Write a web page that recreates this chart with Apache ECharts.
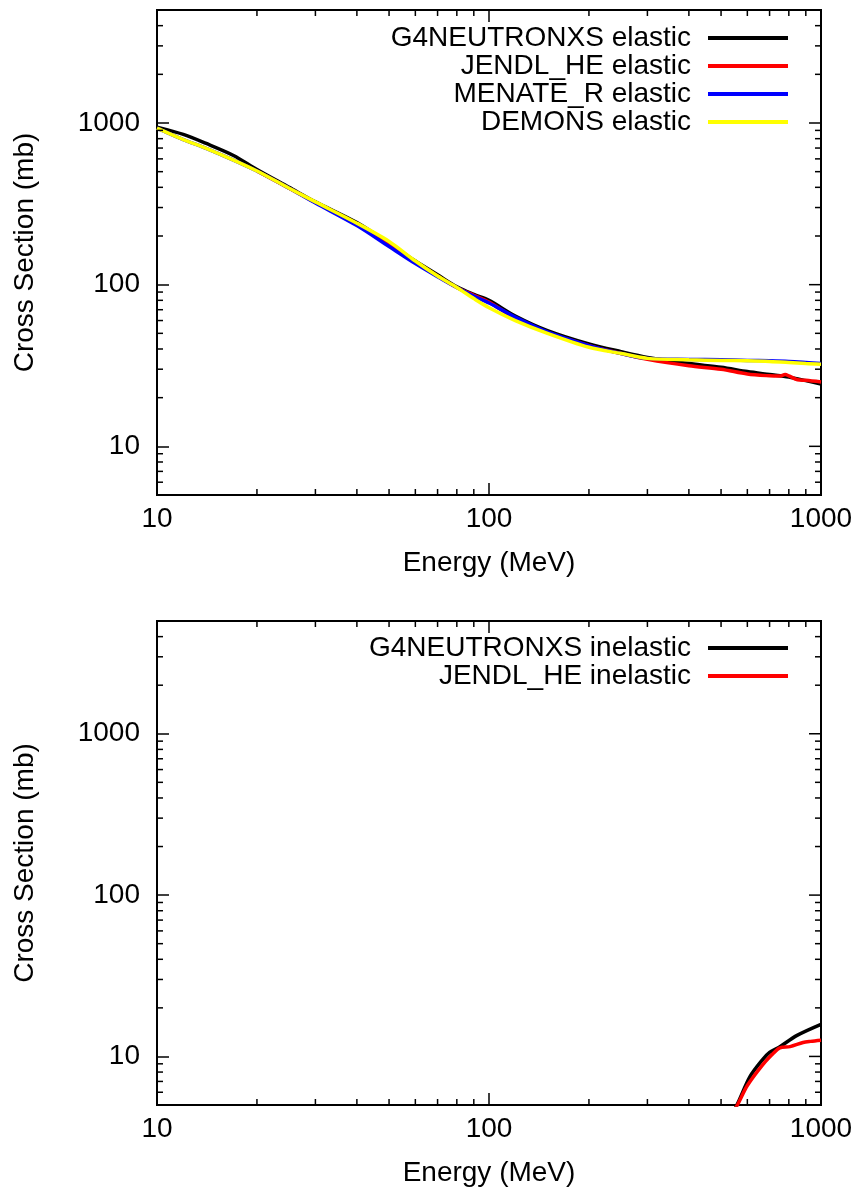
<!DOCTYPE html>
<html>
<head>
<meta charset="utf-8">
<script src="https://cdn.jsdelivr.net/npm/echarts@6/dist/echarts.min.js"></script>
<style>
html,body{margin:0;padding:0;background:#fff;}
#chart{width:858px;height:1192px;}
</style>
</head>
<body>
<div id="chart"></div>
<script>
// ---- axis ranges and ticks ----
const X_RANGE = [10, 1000];
const Y_RANGE = [5, 5000];
const X_MAJOR_MIRROR = [100];
const X_MINOR = [20, 30, 40, 50, 60, 70, 80, 90, 200, 300, 400, 500, 600, 700, 800, 900];
const Y_MAJOR_MIRROR = [10, 100, 1000];
const Y_MINOR = [6, 7, 8, 9, 20, 30, 40, 50, 60, 70, 80, 90, 200, 300, 400, 500, 600, 700, 800, 900, 2000, 3000, 4000];

// ---- elastic (top panel) ----
const g4ElasticE = [10, 12, 14, 17, 20, 25, 30, 40, 50, 60, 70, 80, 90, 100, 120, 150, 200, 250, 300, 400, 500, 600, 700, 800, 900, 1000];
const g4Elastic  = [943, 850, 750, 630, 515, 400, 325, 242, 180, 140, 115, 97, 87, 80, 64, 52, 43, 38.5, 35.5, 32.5, 30.8, 29, 27.8, 26.8, 25.5, 24.3];

const jendlElasticE = [20, 25, 30, 40, 50, 60, 70, 80, 90, 100, 120, 150, 200, 250, 300, 400, 500, 600, 700, 750, 780, 800, 850, 900, 1000];
const jendlElastic  = [505, 395, 322, 238, 178, 138, 113, 96, 86, 78, 62, 50.5, 42, 37.5, 34.5, 31.5, 30, 28, 27.3, 27.2, 27.8, 27.3, 25.8, 25.6, 25.0];

const menateElasticE = [10, 12, 14, 17, 20, 25, 30, 40, 50, 60, 70, 80, 90, 100, 120, 150, 200, 250, 300, 400, 500, 600, 700, 800, 900, 1000];
const menateElastic  = [930, 790, 700, 590, 505, 395, 320, 232, 172, 135, 112, 96, 85, 77, 63, 51, 42, 37.5, 35, 34.5, 34.3, 34, 33.8, 33.5, 33, 32.5];

const demonsElasticE = [10, 12, 14, 17, 20, 25, 30, 40, 50, 60, 70, 80, 90, 100, 120, 150, 200, 250, 300, 400, 500, 600, 700, 800, 900, 1000];
const demonsElastic  = [930, 790, 700, 590, 505, 395, 325, 240, 185, 140, 113, 96, 82, 72, 60, 50, 41, 37.5, 35, 34.3, 34, 33.8, 33.5, 33, 32.5, 32.2];

// ---- inelastic (bottom panel) ----
const g4InelasticE = [530, 558, 611, 668, 700, 752, 847, 1000];
const g4Inelastic  = [4.2, 5, 7.5, 9.6, 10.6, 11.5, 13.5, 15.8];

const jendlInelasticE = [530, 560, 600, 668, 720, 752, 807, 883, 930, 1000];
const jendlInelastic  = [4.2, 5, 6.6, 8.9, 10.5, 11.3, 11.5, 12.2, 12.4, 12.6];

const FONT = 'Liberation Sans';
const FS = 28;

function pairs(xs, ys) { return xs.map((x, i) => [x, ys[i]]); }

function xAxisCfg(gridIndex) {
  return {
    type: 'log', logBase: 10, gridIndex,
    min: X_RANGE[0], max: X_RANGE[1],
    name: 'Energy (MeV)', nameLocation: 'middle', nameGap: 54,
    nameTextStyle: { fontFamily: FONT, fontSize: FS, color: '#000' },
    axisLine: { show: true, lineStyle: { color: '#000', width: 2 } },
    axisTick: { show: true, inside: true, length: 12, lineStyle: { color: '#000', width: 1.5 } },
    axisLabel: { fontFamily: FONT, fontSize: FS, color: '#000', margin: 10,
      formatter: v => String(Math.round(v)) },
    splitLine: { show: false }, minorTick: { show: false }
  };
}
function yAxisCfg(gridIndex) {
  return {
    type: 'log', logBase: 10, gridIndex,
    min: Y_RANGE[0], max: Y_RANGE[1],
    name: 'Cross Section (mb)', nameLocation: 'middle', nameGap: 118, nameRotate: 90,
    nameTextStyle: { fontFamily: FONT, fontSize: FS, color: '#000' },
    axisLine: { show: true, lineStyle: { color: '#000', width: 2 } },
    axisTick: { show: true, inside: true, length: 12, lineStyle: { color: '#000', width: 1.5 } },
    axisLabel: { fontFamily: FONT, fontSize: FS, color: '#000', margin: 17,
      showMinLabel: false, showMaxLabel: false,
      formatter: v => { const r = Math.round(v); return [10, 100, 1000].includes(r) ? String(r) : ''; } },
    splitLine: { show: false }, minorTick: { show: false }
  };
}

function tickSeries(gridIndex) {
  const xData = X_MINOR.map(v => [v, Y_RANGE[0], 6, 6]).concat(X_MAJOR_MIRROR.map(v => [v, Y_RANGE[0], 0, 12]));
  const yData = Y_MINOR.map(v => [X_RANGE[0], v, 6, 6]).concat(Y_MAJOR_MIRROR.map(v => [X_RANGE[0], v, 0, 12]));
  const style = { stroke: '#000', lineWidth: 1.5 };
  return [
    {
      type: 'custom', xAxisIndex: gridIndex, yAxisIndex: gridIndex, silent: true, z: 5,
      data: xData, encode: { x: 0, y: 1 },
      renderItem: (params, api) => {
        const v = api.value(0), lb = api.value(2), lt = api.value(3);
        const b = api.coord([v, Y_RANGE[0]]), t = api.coord([v, Y_RANGE[1]]);
        const ch = [];
        if (lb > 0) ch.push({ type: 'line', shape: { x1: b[0], y1: b[1], x2: b[0], y2: b[1] - lb }, style });
        if (lt > 0) ch.push({ type: 'line', shape: { x1: t[0], y1: t[1], x2: t[0], y2: t[1] + lt }, style });
        return { type: 'group', children: ch };
      }
    },
    {
      type: 'custom', xAxisIndex: gridIndex, yAxisIndex: gridIndex, silent: true, z: 5,
      data: yData, encode: { x: 0, y: 1 },
      renderItem: (params, api) => {
        const v = api.value(1), ll = api.value(2), lr = api.value(3);
        const l = api.coord([X_RANGE[0], v]), r = api.coord([X_RANGE[1], v]);
        const ch = [];
        if (ll > 0) ch.push({ type: 'line', shape: { x1: l[0], y1: l[1], x2: l[0] + ll, y2: l[1] }, style });
        if (lr > 0) ch.push({ type: 'line', shape: { x1: r[0], y1: r[1], x2: r[0] - lr, y2: r[1] }, style });
        return { type: 'group', children: ch };
      }
    }
  ];
}

function lineSeries(name, xs, ys, color, gridIndex) {
  return {
    name, type: 'line', xAxisIndex: gridIndex, yAxisIndex: gridIndex,
    data: pairs(xs, ys), symbol: 'none', showSymbol: false, smooth: 0.3, clip: true,
    lineStyle: { color, width: 3.5 }, itemStyle: { color }, z: 3
  };
}

function legendCfg(names, top) {
  return {
    orient: 'vertical', align: 'right', right: 65, top,
    itemWidth: 80, itemHeight: 14, itemGap: 0,
    icon: 'path://M0,0 L80,0 L80,4 L0,4 Z',
    data: names,
    textStyle: { fontFamily: FONT, fontSize: FS, color: '#000', lineHeight: 28, padding: [0, 12, 0, 0] },
    selectedMode: false
  };
}

const chart = echarts.init(document.getElementById('chart'), null, { renderer: 'canvas' });
chart.setOption({
  animation: false,
  backgroundColor: '#fff',
  grid: [
    { left: 157, top: 10, right: 37, height: 485, show: true, borderColor: '#000', borderWidth: 2, containLabel: false },
    { left: 157, top: 621, right: 37, height: 484, show: true, borderColor: '#000', borderWidth: 2, containLabel: false }
  ],
  legend: [
    legendCfg(['G4NEUTRONXS elastic', 'JENDL_HE elastic', 'MENATE_R elastic', 'DEMONS elastic'], 19),
    legendCfg(['G4NEUTRONXS inelastic', 'JENDL_HE inelastic'], 629)
  ],
  xAxis: [xAxisCfg(0), xAxisCfg(1)],
  yAxis: [yAxisCfg(0), yAxisCfg(1)],
  series: [
    lineSeries('G4NEUTRONXS elastic', g4ElasticE, g4Elastic, '#000000', 0),
    lineSeries('JENDL_HE elastic', jendlElasticE, jendlElastic, '#ff0000', 0),
    lineSeries('MENATE_R elastic', menateElasticE, menateElastic, '#0000ff', 0),
    lineSeries('DEMONS elastic', demonsElasticE, demonsElastic, '#ffff00', 0),
    lineSeries('G4NEUTRONXS inelastic', g4InelasticE, g4Inelastic, '#000000', 1),
    lineSeries('JENDL_HE inelastic', jendlInelasticE, jendlInelastic, '#ff0000', 1)
  ].concat(tickSeries(0), tickSeries(1))
});
</script>
</body>
</html>
